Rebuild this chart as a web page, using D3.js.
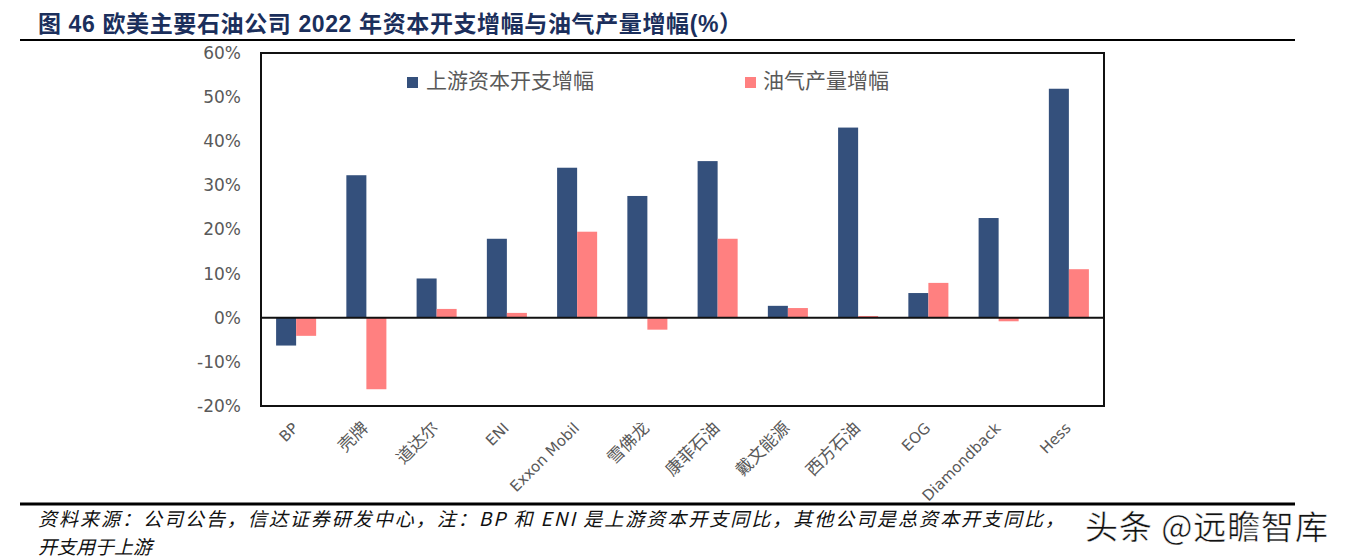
<!DOCTYPE html>
<html><head><meta charset="utf-8">
<script src="https://cdn.jsdelivr.net/npm/d3@7"></script>
<style>body{margin:0;background:#fff}svg{display:block}</style>
</head><body>
<svg id="c" width="1346" height="560"></svg>
<script>
const categories = ["BP","壳牌","道达尔","ENI","Exxon Mobil","雪佛龙","康菲石油","戴文能源","西方石油","EOG","Diamondback","Hess"];
const capexGrowth = [-6.3, 32.3, 8.9, 17.9, 34.0, 27.6, 35.5, 2.7, 43.1, 5.6, 22.6, 51.9];
const outputGrowth = [-4.1, -16.2, 2.0, 1.1, 19.5, -2.7, 17.9, 2.2, 0.4, 7.9, -0.8, 11.0];
const seriesNames = ["上游资本开支增幅","油气产量增幅"];
const yTicks = [-20,-10,0,10,20,30,40,50,60];
const titleText = "图 46  欧美主要石油公司 2022 年资本开支增幅与油气产量增幅(%）";
const noteLine1 = "资料来源：公司公告，信达证券研发中心，注：BP 和 ENI 是上游资本开支同比，其他公司是总资本开支同比，";
const noteLine2 = "开支用于上游";
const watermark = "头条 @远瞻智库";

const colors = ["#34507c","#ff8080"];
const svg = d3.select("#c");
const L=261,R=1104,T=53,B=406;

const x0 = d3.scaleBand().domain(categories).range([L,R]).paddingInner(0.43).paddingOuter(0.215);
const x1 = d3.scaleBand().domain([0,1]).range([0,x0.bandwidth()]);
const y = d3.scaleLinear().domain([-20,60]).range([B,T]);

// title
svg.append("text").attr("x",38).attr("y",32).attr("font-family","'Liberation Sans','Noto Sans CJK SC',sans-serif")
  .attr("font-weight","bold").attr("font-size",23).attr("fill","#1b2f5c")
  .attr("textLength",704).attr("lengthAdjust","spacing").text(titleText);
svg.append("line").attr("x1",20).attr("x2",1295).attr("y1",40).attr("y2",40).attr("stroke","#000").attr("stroke-width",2);

// y axis labels
const yAxis = d3.axisLeft(y).tickValues(yTicks).tickSize(0).tickPadding(0).tickFormat(d=>d+"%");
const ga = svg.append("g").attr("transform",`translate(241,0)`).call(yAxis);
ga.select(".domain").remove();
ga.selectAll("text").attr("font-family","'DejaVu Sans',sans-serif").attr("font-size",17).attr("fill","#595959");

// bars
const data = categories.map((c,i)=>({c,v:[capexGrowth[i],outputGrowth[i]]}));
const g = svg.append("g");
data.forEach(d=>{
  d.v.forEach((v,k)=>{
    g.append("rect").attr("x",x0(d.c)+x1(k)).attr("width",x1.bandwidth())
      .attr("y",y(Math.max(0,v))).attr("height",Math.abs(y(v)-y(0))).attr("fill",colors[k]);
  });
});

// frame & zero line
svg.append("rect").attr("x",L).attr("y",T).attr("width",R-L).attr("height",B-T).attr("fill","none").attr("stroke","#111").attr("stroke-width",2);
svg.append("line").attr("x1",L).attr("x2",R).attr("y1",y(0)).attr("y2",y(0)).attr("stroke","#111").attr("stroke-width",2);

// x labels
categories.forEach(c=>{
  const cx = x0(c)+x0.bandwidth()/2+3;
  const cjk = /[\u4e00-\u9fff]/.test(c);
  svg.append("text").attr("transform",`translate(${cx},${B+23}) rotate(-45)`).attr("text-anchor","end")
    .attr("font-family","'DejaVu Sans','Noto Sans CJK SC',sans-serif").attr("font-size",cjk?17:15)
    .attr("fill","#595959").text(c);
});

// legend
const leg = [{x:407,tx:426},{x:745,tx:763}];
seriesNames.forEach((s,k)=>{
  svg.append("rect").attr("x",leg[k].x).attr("y",77).attr("width",11).attr("height",11).attr("fill",colors[k]);
  svg.append("text").attr("x",leg[k].tx).attr("y",82).attr("dominant-baseline","middle")
    .attr("font-family","'Noto Sans CJK SC',sans-serif").attr("font-size",21).attr("fill","#595959").text(s);
});

// footer
svg.append("line").attr("x1",20).attr("x2",1295).attr("y1",504).attr("y2",504).attr("stroke","#000").attr("stroke-width",3);
svg.append("text").attr("x",38).attr("y",526).attr("font-family","'Noto Sans CJK SC',sans-serif").attr("font-style","italic")
  .attr("font-size",19).attr("fill","#111").attr("textLength",1026).attr("lengthAdjust","spacing").text(noteLine1);
svg.append("text").attr("x",38).attr("y",554).attr("font-family","'Noto Sans CJK SC',sans-serif").attr("font-style","italic")
  .attr("font-size",19).attr("fill","#111").text(noteLine2);
svg.append("text").attr("x",1085).attr("y",539).attr("font-family","'Noto Sans CJK SC',sans-serif")
  .attr("font-size",33).attr("fill","#111").attr("stroke","#fff").attr("stroke-width",0.5)
  .attr("textLength",243).attr("lengthAdjust","spacing").text(watermark);
</script>
</body></html>
